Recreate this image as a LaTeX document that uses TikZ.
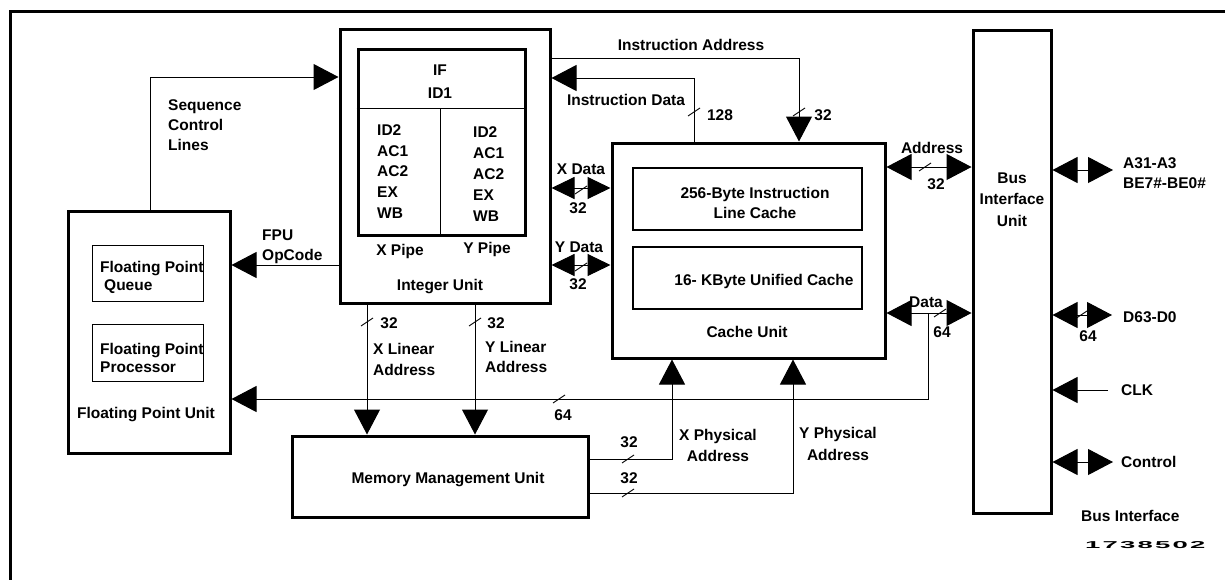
\documentclass[tikz,border=0pt]{standalone}
\usepackage{fontspec}
\setmainfont{Liberation Sans}
\usetikzlibrary{arrows.meta,calc}
\tikzset{
  bigtri/.tip={Triangle[length=25pt,width=26pt]},
  smtri/.tip={Triangle[length=23pt,width=22pt]},
  busmark/.pic={\draw[line width=0.9pt] (-6,4) -- (6,-4);},
}
\begin{document}
\begin{tikzpicture}[x=1pt,y=-1pt,
  thickbox/.style={draw,line width=3pt,inner sep=0pt},
  thinbox/.style={draw,line width=1.2pt,inner sep=0pt},
  conn/.style={line width=1pt},
  lbl/.style={font=\fontsize{15.5}{20}\selectfont\bfseries,inner sep=0pt},
  ]
\useasboundingbox (0,0) rectangle (1225,579);
\clip (0,0) rectangle (1225,579);
% outer frame
\draw[line width=3pt] (10,620) -- (10,11) -- (1260,11);

% blocks
\node[thickbox,minimum width=210pt,minimum height=274pt] (iu) at (445,166) {};
\node[thickbox,minimum width=167pt,minimum height=186pt] (pipe) at (441.5,142) {};
\node[thickbox,minimum width=273pt,minimum height=215pt] (cache) at (748.5,250.5) {};
\node[thinbox,minimum width=229pt,minimum height=62pt] (ilc) at (747.5,199) {};
\node[thinbox,minimum width=229pt,minimum height=62pt] (ucache) at (747.5,278) {};
\node[thickbox,minimum width=78pt,minimum height=483pt] (biu) at (1012,271.5) {};
\node[thickbox,minimum width=162pt,minimum height=242pt] (fpu) at (149,332) {};
\node[thinbox,line width=1pt,minimum width=111pt,minimum height=56pt] (fpq) at (147.5,273) {};
\node[thinbox,line width=1pt,minimum width=111pt,minimum height=57pt] (fpp) at (147.5,352.5) {};
\node[thickbox,minimum width=296pt,minimum height=81pt] (mmu) at (440,476.5) {};

% pipeline dividers
\coordinate (pdiv) at (440,108);
\draw[conn] (pipe.west |- pdiv) -- (pipe.east |- pdiv);
\draw[conn] (pdiv) -- (pdiv |- pipe.south);

% texts inside blocks
\node[lbl,font=\fontsize{15.5}{23}\selectfont\bfseries,align=center,anchor=north] (ifid) at (440,64.4) {IF\\ID1};
\node[lbl,font=\fontsize{15.5}{20.75}\selectfont\bfseries,align=left,anchor=north west] (xcol) at (377,124.4) {ID2\\AC1\\AC2\\EX\\WB};
\node[lbl,font=\fontsize{15.5}{21}\selectfont\bfseries,align=left,anchor=north west] (ycol) at (473,126.4) {ID2\\AC1\\AC2\\EX\\WB};
\node[lbl,anchor=base] (xpipe) at (400,255.6) {X Pipe};
\node[lbl,anchor=base] (ypipe) at (487,253.6) {Y Pipe};
\node[lbl,anchor=base] (iulbl) at (440,290.6) {Integer Unit};

\node[lbl,align=center,anchor=north] (ilctxt) at (755,187.4) {256-Byte Instruction\\Line Cache};
\node[lbl,anchor=base] (uctxt) at (764,285.6) {16- KByte Unified Cache};
\node[lbl,anchor=base] (cachelbl) at (747,337.6) {Cache Unit};

\node[lbl,font=\fontsize{15.5}{21.5}\selectfont\bfseries,align=center,anchor=north] (biutxt) at (1012,172.4) {Bus\\Interface\\Unit};

\node[lbl,font=\fontsize{15.5}{18}\selectfont\bfseries,align=left,anchor=north west] (fpqtxt) at (100,261.4) {Floating Point\\\hspace*{4pt}Queue};
\node[lbl,font=\fontsize{15.5}{18}\selectfont\bfseries,align=left,anchor=north west] (fpptxt) at (100,343.4) {Floating Point\\Processor};
\node[lbl,anchor=base] (fpulbl) at (146,418.6) {Floating Point Unit};
\node[lbl,anchor=base] (mmulbl) at (448,483.6) {Memory Management Unit};

% connectors
\coordinate (seq) at (150,77);
\draw[conn,-bigtri] (seq |- fpu.north) -- (seq) -- (iu.west |- seq);
\node[lbl,align=left,anchor=north west] (seqlbl) at (168,99.4) {Sequence\\Control\\Lines};

\coordinate (opc) at (0,265);
\draw[conn,-bigtri] (iu.west |- opc) -- (fpu.east |- opc);
\node[lbl,align=left,anchor=north west] (opclbl) at (262,229.4) {FPU\\OpCode};

\coordinate (ia) at (799,58);
\draw[conn,-bigtri] (iu.east |- ia) -- (ia) -- (ia |- cache.north);
\node[lbl,anchor=base] (ialbl) at (691,50.6) {Instruction Address};
\pic at (799,112) {busmark};
\node[lbl,anchor=base] (ia32) at (823,120.6) {32};

\coordinate (idt) at (694,78);
\draw[conn,-bigtri] (idt |- cache.north) -- (idt) -- (iu.east |- idt);
\node[lbl,anchor=base] (idlbl) at (626,105.6) {Instruction Data};
\pic at (694,112) {busmark};
\node[lbl,anchor=base] (id128) at (720,120.6) {128};

\coordinate (xd) at (0,188);
\draw[conn,smtri-smtri] (iu.east |- xd) -- (cache.west |- xd);
\pic at (581,190) {busmark};
\node[lbl,anchor=base] (xdlbl) at (581,174.6) {X Data};
\node[lbl,anchor=base] (xd32) at (578,213.6) {32};

\coordinate (yd) at (0,265);
\draw[conn,smtri-smtri] (iu.east |- yd) -- (cache.west |- yd);
\pic at (581,267) {busmark};
\node[lbl,anchor=base] (ydlbl) at (579,252.6) {Y Data};
\node[lbl,anchor=base] (yd32) at (578,289.6) {32};

\coordinate (ad) at (0,167);
\draw[conn,bigtri-bigtri] (cache.east |- ad) -- (biu.west |- ad);
\pic at (925,167) {busmark};
\node[lbl,anchor=base] (adlbl) at (932,153.6) {Address};
\node[lbl,anchor=base] (ad32) at (936,189.6) {32};

\coordinate (dt) at (0,313);
\draw[conn,bigtri-bigtri] (cache.east |- dt) -- (biu.west |- dt);
\pic at (940,313) {busmark};
\node[lbl,anchor=base] (dtlbl) at (926,307.6) {Data};
\node[lbl,anchor=base] (dt64) at (942,337.6) {64};

\coordinate (br) at (928,313);
\coordinate (fbus) at (0,399);
\draw[conn,-bigtri] (br) -- (br |- fbus) -- (fpu.east |- fbus);
\pic at (559,399) {busmark};
\node[lbl,anchor=base] (fb64) at (563,420.6) {64};

\coordinate (xl) at (367,0);
\draw[conn,-bigtri] (xl |- iu.south) -- (xl |- mmu.north);
\pic at (367,322) {busmark};
\node[lbl,anchor=base] (xl32) at (389,328.6) {32};
\node[lbl,font=\fontsize{15.5}{21}\selectfont\bfseries,align=left,anchor=north west] (xllbl) at (373,343.4) {X Linear\\Address};

\coordinate (yl) at (475,0);
\draw[conn,-bigtri] (yl |- iu.south) -- (yl |- mmu.north);
\pic at (475,322) {busmark};
\node[lbl,anchor=base] (yl32) at (496,328.6) {32};
\node[lbl,align=left,anchor=north west] (yllbl) at (485,341.4) {Y Linear\\Address};

\coordinate (xp) at (672,459);
\draw[conn,-bigtri] (mmu.east |- xp) -- (xp) -- (xp |- cache.south);
\pic at (628,459) {busmark};
\node[lbl,anchor=base] (xp32) at (629,447.6) {32};
\node[lbl,font=\fontsize{15.5}{21}\selectfont\bfseries,align=center,anchor=north] (xplbl) at (718,429.4) {X Physical\\Address};

\coordinate (yp) at (793,493);
\draw[conn,-bigtri] (mmu.east |- yp) -- (yp) -- (yp |- cache.south);
\pic at (628,493) {busmark};
\node[lbl,anchor=base] (yp32) at (629,483.6) {32};
\node[lbl,font=\fontsize{15.5}{22}\selectfont\bfseries,align=center,anchor=north] (yplbl) at (838,427.4) {Y Physical\\Address};

% bus interface pins
\coordinate (a31) at (1113,170);
\draw[conn,bigtri-bigtri] (biu.east |- a31) -- (a31);
\node[lbl,align=left,anchor=north west] (a31lbl) at (1123,157.4) {A31-A3\\BE7\#-BE0\#};

\coordinate (d63) at (1112,315);
\draw[conn,bigtri-bigtri] (biu.east |- d63) -- (d63);
\pic at (1081,315) {busmark};
\node[lbl,anchor=base] (d6364) at (1088,341.6) {64};
\node[lbl,anchor=base west] (d63lbl) at (1123,322.6) {D63-D0};

\coordinate (clk) at (1108,390);
\draw[conn,-bigtri] (clk) -- (biu.east |- clk);
\node[lbl,anchor=base west] (clklbl) at (1121,395.6) {CLK};

\coordinate (ctl) at (1113,462);
\draw[conn,bigtri-bigtri] (biu.east |- ctl) -- (ctl);
\node[lbl,anchor=base west] (ctllbl) at (1121,467.6) {Control};

\node[lbl,anchor=base west] (bilbl) at (1081,521.6) {Bus Interface};
\node[inner sep=0pt,anchor=base west,font=\fontsize{10}{12}\selectfont\bfseries] (fig) at (1085,548.5)
  {\scalebox{2.75}[1]{1\kern0.8pt7\kern0.8pt3\kern0.8pt8\kern0.8pt5\kern0.8pt0\kern0.8pt2}};
\end{tikzpicture}
\end{document}
